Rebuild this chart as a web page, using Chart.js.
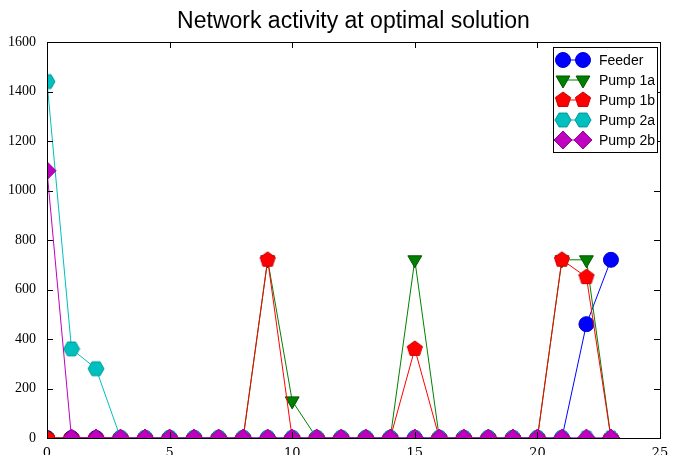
<!DOCTYPE html>
<html>
<head>
<meta charset="utf-8">
<script src="https://cdn.jsdelivr.net/npm/chart.js@4/dist/chart.umd.min.js"></script>
<style>
  html, body { margin: 0; padding: 0; background: #fff; }
  #wrap { width: 674px; height: 455px; }
</style>
</head>
<body>
<div id="wrap"><canvas id="chart" width="674" height="455"></canvas></div>
<script>
// hour of the schedule
const hours = [0, 1, 2, 3, 4, 5, 6, 7, 8, 9, 10, 11, 12, 13, 14, 15, 16, 17, 18, 19, 20, 21, 22, 23];

const feeder = [0, 0, 0, 0, 0, 0, 0, 0, 0, 0, 0, 0, 0, 0, 0, 0, 0, 0, 0, 0, 0, 0, 460, 720];
const pump1a = [0, 0, 0, 0, 0, 0, 0, 0, 0, 720, 150, 0, 0, 0, 0, 720, 0, 0, 0, 0, 0, 720, 720, 0];
const pump1b = [0, 0, 0, 0, 0, 0, 0, 0, 0, 720, 0, 0, 0, 0, 0, 360, 0, 0, 0, 0, 0, 720, 650, 0];
const pump2a = [1440, 360, 280, 0, 0, 0, 0, 0, 0, 0, 0, 0, 0, 0, 0, 0, 0, 0, 0, 0, 0, 0, 0, 0];
const pump2b = [1080, 0, 0, 0, 0, 0, 0, 0, 0, 0, 0, 0, 0, 0, 0, 0, 0, 0, 0, 0, 0, 0, 0, 0];

const seriesNames = ['Feeder', 'Pump 1a', 'Pump 1b', 'Pump 2a', 'Pump 2b'];
const xTicks = [0, 5, 10, 15, 20, 25];
const yTicks = [0, 200, 400, 600, 800, 1000, 1200, 1400, 1600];

// pentagon / hexagon markers are not built in, so draw them on small canvases
function polyMarker(sides, r, startAngle, fill, stroke) {
    const c = document.createElement('canvas');
    const s = Math.ceil(r * 2 + 2);
    c.width = s; c.height = s;
    const g = c.getContext('2d');
    g.beginPath();
    for (let i = 0; i < sides; i++) {
        const a = startAngle + i * 2 * Math.PI / sides;
        const px = s / 2 + r * Math.cos(a), py = s / 2 + r * Math.sin(a);
        if (i === 0) g.moveTo(px, py); else g.lineTo(px, py);
    }
    g.closePath();
    g.fillStyle = fill;
    g.fill();
    g.strokeStyle = stroke;
    g.lineWidth = 1;
    g.stroke();
    return c;
}

const pentagon = polyMarker(5, 8, -Math.PI / 2, '#ff0000', '#cc0000');
const hexagon = polyMarker(6, 8, 0, '#00bfbf', '#009999');

const styles = [
    { color: '#0000ff', edge: '#0000cc', point: 'circle', radius: 7.5, rot: 0 },
    { color: '#008000', edge: '#005500', point: 'triangle', radius: 8, rot: 180 },
    { color: '#ff0000', edge: '#cc0000', point: pentagon, radius: 8, rot: 0 },
    { color: '#00bfbf', edge: '#009999', point: hexagon, radius: 8, rot: 0 },
    { color: '#bf00bf', edge: '#990099', point: 'rectRot', radius: 9, rot: 0 }
];

const allSeries = [feeder, pump1a, pump1b, pump2a, pump2b];

const datasets = allSeries.map((vals, i) => ({
    label: seriesNames[i],
    data: hours.map((h, j) => ({ x: h, y: vals[j] })),
    borderColor: styles[i].color,
    backgroundColor: styles[i].color,
    borderWidth: 1,
    pointStyle: styles[i].point,
    pointRadius: styles[i].radius,
    pointRotation: styles[i].rot,
    pointBackgroundColor: styles[i].color,
    pointBorderColor: styles[i].edge,
    pointBorderWidth: 1,
    tension: 0,
    clip: 0,
    order: 5 - i // later series drawn on top, like matplotlib
}));

// frame, inward ticks, title and legend box
const decor = {
    id: 'decor',
    afterDraw(chart) {
        const ctx = chart.ctx;
        const a = chart.chartArea;
        const xs = chart.scales.x, ys = chart.scales.y;
        ctx.save();
        ctx.strokeStyle = '#000';
        ctx.lineWidth = 1;
        ctx.strokeRect(Math.round(a.left) + 0.5, Math.round(a.top) + 0.5,
            Math.round(a.right - a.left), Math.round(a.bottom - a.top));

        ctx.beginPath();
        xTicks.forEach(v => {
            const px = Math.round(xs.getPixelForValue(v)) + 0.5;
            ctx.moveTo(px, a.bottom); ctx.lineTo(px, a.bottom - 6);
            ctx.moveTo(px, a.top); ctx.lineTo(px, a.top + 6);
        });
        yTicks.forEach(v => {
            const py = Math.round(ys.getPixelForValue(v)) + 0.5;
            ctx.moveTo(a.left, py); ctx.lineTo(a.left + 6, py);
            ctx.moveTo(a.right, py); ctx.lineTo(a.right - 6, py);
        });
        ctx.stroke();

        // title
        ctx.fillStyle = '#000';
        ctx.font = '23px "Liberation Sans", Arial, sans-serif';
        ctx.textAlign = 'center';
        ctx.textBaseline = 'middle';
        ctx.fillText('Network activity at optimal solution', (a.left + a.right) / 2, 22);

        // legend
        const bx = 553, by = 47, bw = 104, bh = 105;
        ctx.fillStyle = '#fff';
        ctx.fillRect(bx, by, bw, bh);
        ctx.strokeStyle = '#000';
        ctx.strokeRect(bx + 0.5, by + 0.5, bw, bh);
        ctx.font = '14px "Liberation Sans", Arial, sans-serif';
        ctx.textAlign = 'left';
        seriesNames.forEach((name, i) => {
            const y = 60 + i * 20;
            const st = styles[i];
            ctx.strokeStyle = st.color;
            ctx.beginPath();
            ctx.moveTo(563, y); ctx.lineTo(583, y);
            ctx.stroke();
            ctx.fillStyle = st.color;
            ctx.strokeStyle = st.edge;
            [563, 583].forEach(px => {
                Chart.helpers.drawPoint(ctx, {
                    pointStyle: st.point, radius: st.radius, rotation: st.rot, borderWidth: 1
                }, px, y);
            });
            ctx.fillStyle = '#000';
            ctx.fillText(name, 599, y + 1);
        });
        ctx.restore();
    }
};

new Chart(document.getElementById('chart'), {
    type: 'line',
    data: { datasets },
    options: {
        responsive: false,
        animation: false,
        layout: { padding: { top: 42, right: 14, left: 0, bottom: 0 } },
        plugins: {
            legend: { display: false },
            title: { display: false },
            tooltip: { enabled: false }
        },
        scales: {
            x: {
                type: 'linear',
                min: 0, max: 25,
                afterFit: s => { s.height = 17; },
                afterBuildTicks: s => { s.ticks = xTicks.map(v => ({ value: v })); },
                grid: { display: false },
                border: { display: false },
                ticks: {
                    color: '#000', padding: 0,
                    callback: v => String(v),
                    font: { family: '"DejaVu Serif", "Liberation Serif", serif', size: 13 }
                }
            },
            y: {
                min: 0, max: 1600,
                afterFit: s => { s.width = 47; },
                afterBuildTicks: s => { s.ticks = yTicks.map(v => ({ value: v })); },
                grid: { display: false },
                border: { display: false },
                ticks: {
                    color: '#000', padding: 3,
                    callback: v => String(v),
                    font: { family: '"Liberation Serif", "DejaVu Serif", serif', size: 14 }
                }
            }
        }
    },
    plugins: [decor]
});
</script>
</body>
</html>
